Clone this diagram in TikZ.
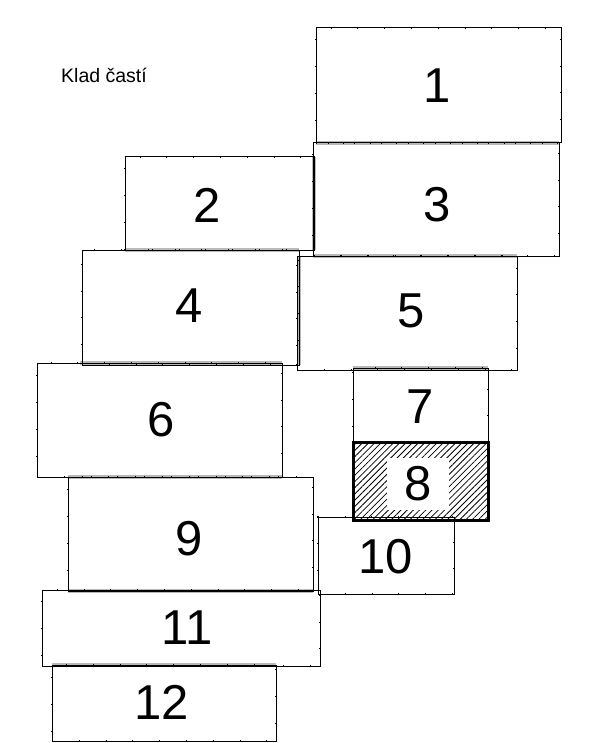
\documentclass[tikz,border=0pt]{standalone}
\usepackage{fontspec}
\setmainfont{Liberation Sans}
\usetikzlibrary{patterns.meta,backgrounds}
\begin{document}
\begin{tikzpicture}[x=1pt,y=-1pt,
  box/.style={draw=black, line width=1pt, anchor=north west, inner sep=0pt, outer sep=0pt,
    postaction={draw, line width=2.4pt, dash pattern=on 0.8pt off 26pt}},
  shared/.style={draw=gray!55, line width=4pt},
  num/.style={font=\fontsize{49}{49}\selectfont, inner sep=0pt},
  title/.style={font=\fontsize{19.5}{20}\selectfont, inner sep=0pt, anchor=base west}]
\useasboundingbox (0,0) rectangle (596,743);
% boxes
\node[box, minimum width=245pt, minimum height=115pt] (b1) at (316,28) {};
\node[box, minimum width=246pt, minimum height=113pt] (b3) at (313,143) {};
\node[box, minimum width=189pt, minimum height=93pt] (b2) at (125,157) {};
\node[box, minimum width=217pt, minimum height=115pt] (b4) at (82,250) {};
\node[box, minimum width=220pt, minimum height=114pt] (b5) at (297,256) {};
\node[box, minimum width=245pt, minimum height=114pt] (b6) at (37,363) {};
\node[box, minimum width=135pt, minimum height=74pt] (b7) at (353,368) {};
\node[box, minimum width=245pt, minimum height=114pt] (b9) at (68,477) {};
\node[box, minimum width=136pt, minimum height=77pt] (b10) at (318,517) {};
\node[box, minimum width=278pt, minimum height=76pt] (b11) at (42,590) {};
\node[box, minimum width=224pt, minimum height=76pt] (b12) at (52,665) {};
\node[draw=black, line width=3pt, anchor=north west, inner sep=0pt, outer sep=0pt,
  minimum width=135pt, minimum height=78pt,
  pattern={Lines[angle=45,distance=4.4pt,line width=0.8pt]}] (b8) at (353,442) {};
% shared edges
\begin{pgfonlayer}{background}
\fill[white] (0,0) rectangle (596,743);
\draw[shared] (b1.south west) -- (b3.north east);
\draw[shared] (b2.south west) -- (b4.north east);
\draw[shared] (b2.north east) -- (b2.south east);
\draw[shared] (b3.south west) -- (b5.north east);
\draw[shared] (b4.north east |- b5.north) -- (b4.south east);
\draw[shared] (b4.south west) -- (b6.north east -| b4.south west) -- (b6.north east);
\draw[shared] (b7.north west) -- (b7.north east);
\draw[shared] (b9.north west) -- (b6.south east);
\draw[shared] (b9.south west) -- (b9.south east);
\draw[shared] (b12.north west) -- (b12.north east);
\end{pgfonlayer}
% texts
\node[title] (t) at (61,83) {Klad častí};
\node[num] (n1) at (437,86) {1};
\node[num] (n2) at (207,205) {2};
\node[num] (n3) at (437,205) {3};
\node[num] (n4) at (189,306) {4};
\node[num] (n5) at (411,311) {5};
\node[num] (n6) at (161,420) {6};
\node[num] (n7) at (420,407) {7};
\node[num, fill=white, inner xsep=17pt, inner ysep=9pt] (n8) at (418,484) {8};
\node[num] (n9) at (189,539) {9};
\node[num] (n10) at (386,557) {10};
\node[num] (n11) at (187,628) {11};
\node[num] (n12) at (162,702) {12};
\end{tikzpicture}
\end{document}
